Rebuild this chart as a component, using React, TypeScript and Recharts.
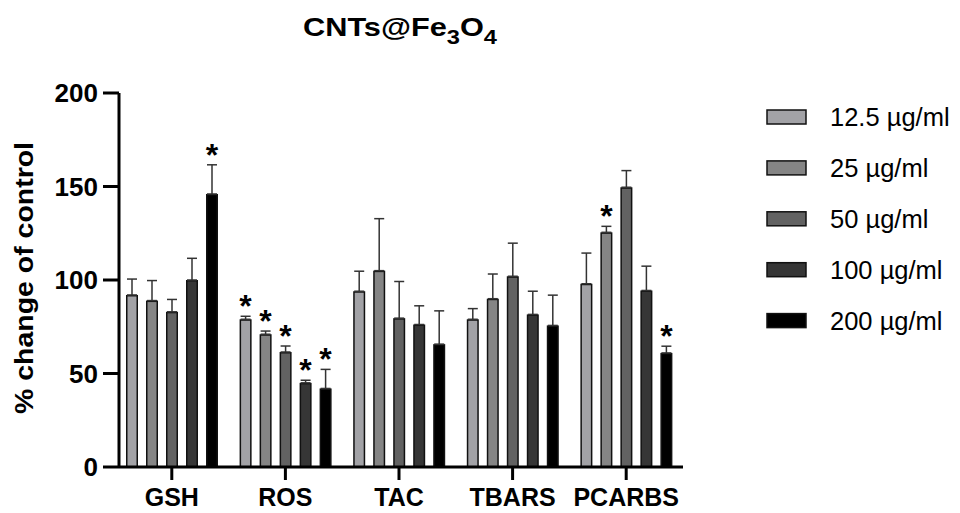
import React from 'react';
import { BarChart, Bar, XAxis, YAxis, ErrorBar, Legend } from 'recharts';

const categories = ['GSH', 'ROS', 'TAC', 'TBARS', 'PCARBS'];
const seriesNames = ['12.5 µg/ml', '25 µg/ml', '50 µg/ml', '100 µg/ml', '200 µg/ml'];
const seriesColors = ['#a2a2a6', '#858585', '#626262', '#363636', '#000000'];

const mean12_5 = [92, 79, 94, 79, 98];
const mean25 = [89, 71, 105, 90, 125.5];
const mean50 = [83, 61.5, 79.6, 102, 149.6];
const mean100 = [100, 45, 76.2, 81.6, 94.4];
const mean200 = [146, 42, 65.7, 75.7, 61];

const err12_5 = [8.5, 1.6, 10.7, 5.7, 16.4];
const err25 = [10.7, 1.7, 27.8, 13.2, 3.2];
const err50 = [6.6, 3.2, 19.6, 17.7, 8.9];
const err100 = [11.6, 1.4, 10, 12.4, 13];
const err200 = [15.6, 10.2, 17.8, 16.2, 3.6];

const sig12_5 = [false, true, false, false, false];
const sig25 = [false, true, false, false, true];
const sig50 = [false, true, false, false, false];
const sig100 = [false, true, false, false, false];
const sig200 = [true, true, false, false, true];

const yTicks = [0, 50, 100, 150, 200];

const means = [mean12_5, mean25, mean50, mean100, mean200];
const errs = [err12_5, err25, err50, err100, err200];
const sigs = [sig12_5, sig25, sig50, sig100, sig200];

const data = categories.map((cat, i) => {
  const row: any = { cat };
  for (let k = 0; k < 5; k++) {
    row[`v${k}`] = means[k][i];
    row[`e${k}`] = [0, errs[k][i]];
    row[`s${k}`] = sigs[k][i];
  }
  return row;
});

const FONT = "Arial, 'Liberation Sans', sans-serif";

const makeShape = (k: number) => (props: any) => {
  const { x, y, width, height, payload } = props;
  const val = payload[`v${k}`];
  const err = payload[`e${k}`][1];
  const ppu = val ? height / val : 0;
  const errTop = y - err * ppu;
  return (
    <g>
      <rect
        x={x + 0.75}
        y={y + 0.75}
        width={Math.max(0, width - 1.5)}
        height={Math.max(0, height - 0.75)}
        fill={seriesColors[k]}
        stroke="#111"
        strokeWidth={1.5}
      />
      {payload[`s${k}`] ? (
        <text
          x={x + width / 2}
          y={errTop + 1}
          textAnchor="middle"
          fontFamily={FONT}
          fontWeight="bold"
          fontSize={32}
          fill="#000"
        >
          *
        </text>
      ) : null}
    </g>
  );
};

const XTick = (props: any) => {
  const { x, y, payload } = props;
  return (
    <text x={x} y={y + 24} textAnchor="middle" fontFamily={FONT} fontWeight="bold" fontSize={25} fill="#000">
      {payload.value}
    </text>
  );
};

const YTick = (props: any) => {
  const { x, y, payload } = props;
  return (
    <text x={x} y={y + 9.3} textAnchor="end" fontFamily={FONT} fontWeight="bold" fontSize={26} fill="#000">
      {payload.value}
    </text>
  );
};

const LegendContent = () => (
  <svg width={200} height={260}>
    {seriesNames.map((name, k) => {
      const cy = 22 + k * 50.9;
      return (
        <g key={name}>
          <rect x={7} y={cy - 7} width={39} height={14} fill={seriesColors[k]} stroke="#111" strokeWidth={1.5} />
          <text x={70} y={cy + 9} fontFamily={FONT} fontSize={25.5} fill="#000">
            {name}
          </text>
        </g>
      );
    })}
  </svg>
);

const YLabel = () => (
  <text
    x={24}
    y={278}
    transform="rotate(-90 24 278)"
    textAnchor="middle"
    dominantBaseline="central"
    fontFamily={FONT}
    fontWeight="bold"
    fontSize={25}
    fill="#000"
    textLength={272}
    lengthAdjust="spacingAndGlyphs"
  >
    % change of control
  </text>
);

export default function App() {
  return (
    <div style={{ position: 'absolute', left: 0, top: 0, width: 960, height: 513, background: '#fff' }}>
      <svg
        width={960}
        height={80}
        style={{ position: 'absolute', left: 0, top: 0, pointerEvents: 'none' }}
      >
        <text
          x={303}
          y={36}
          fontFamily={FONT}
          fontWeight="bold"
          fontSize={26}
          fill="#000"
          textLength={194}
          lengthAdjust="spacingAndGlyphs"
        >
          CNTs@Fe
          <tspan fontSize={20} dy={8}>3</tspan>
          <tspan dy={-8}>O</tspan>
          <tspan fontSize={20} dy={8}>4</tspan>
        </text>
      </svg>
      <BarChart
        width={960}
        height={513}
        data={data}
        margin={{ top: 93, right: 277, bottom: 0, left: 0 }}
        barSize={12}
        barGap={8}
      >
        <XAxis
          dataKey="cat"
          height={46}
          padding={{ left: -4, right: 0 }}
          axisLine={{ stroke: '#000', strokeWidth: 3 }}
          tickLine={{ stroke: '#000', strokeWidth: 3 }}
          tickSize={13}
          tickMargin={2}
          tick={<XTick />}
          interval={0}
        />
        <YAxis
          width={119}
          domain={[0, 200]}
          ticks={yTicks}
          axisLine={{ stroke: '#000', strokeWidth: 3 }}
          tickLine={{ stroke: '#000', strokeWidth: 3 }}
          tickSize={16}
          tickMargin={5}
          tick={<YTick />}
          label={{ content: () => <YLabel /> }}
        />
        <Legend
          layout="vertical"
          align="center"
          verticalAlign="middle"
          wrapperStyle={{ position: 'absolute', left: 760, top: 95, width: 200, height: 260 }}
          content={() => <LegendContent />}
        />
        {seriesNames.map((name, k) => (
          <Bar
            key={name}
            dataKey={`v${k}`}
            name={name}
            fill={seriesColors[k]}
            shape={makeShape(k)}
            isAnimationActive={false}
          >
            <ErrorBar dataKey={`e${k}`} width={5} stroke="#333" strokeWidth={1.5} direction="y" />
          </Bar>
        ))}
      </BarChart>
    </div>
  );
}
